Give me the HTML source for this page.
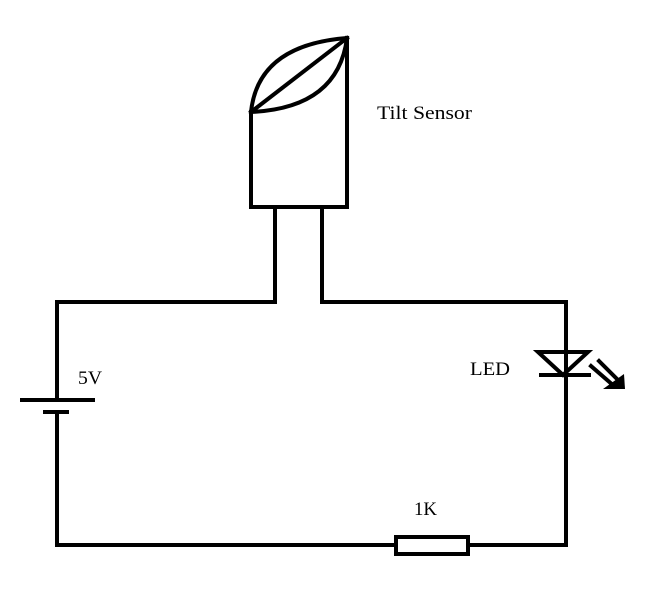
<!DOCTYPE html>
<html><head><style>body{margin:0;background:#fff}</style></head><body>
<svg width="651" height="599" xmlns="http://www.w3.org/2000/svg">
<rect width="651" height="599" fill="#fff"/>
<g stroke="#000" stroke-width="4" fill="none" stroke-linecap="square">
<path d="M251 112 L251 207 L347 207 L347 38"/>
<path d="M251 112 Q258 45 347 38"/>
<path d="M251 112 Q338 108 347 38"/>
<path d="M251 112 L347 38"/>
<path d="M275 209 L275 302 L57 302 L57 400"/>
<path d="M322 209 L322 302 L566 302 L566 545 L468 545"/>
<path d="M395 545 L57 545 L57 412"/>
<path d="M22 400 L93 400"/>
<path d="M45 412 L67 412"/>
<rect x="396" y="537" width="72" height="17"/>
<path d="M538 352 L588 352 L563 375 Z" stroke-linejoin="miter"/>
<path d="M541 375 L589 375"/>
<path d="M591 366 L614 386"/>
<path d="M599 361 L618 380"/>
</g>
<path d="M603 389 L625 389 L624 374 Z" fill="#000"/>
<g font-family="Liberation Serif, serif" font-size="19" fill="#000">
<text x="377" y="119" textLength="95" lengthAdjust="spacingAndGlyphs">Tilt Sensor</text>
<text x="78" y="384" textLength="24" lengthAdjust="spacingAndGlyphs">5V</text>
<text x="470" y="375" textLength="40" lengthAdjust="spacingAndGlyphs">LED</text>
<text x="414" y="515" textLength="23" lengthAdjust="spacingAndGlyphs">1K</text>
</g>
</svg>
</body></html>
